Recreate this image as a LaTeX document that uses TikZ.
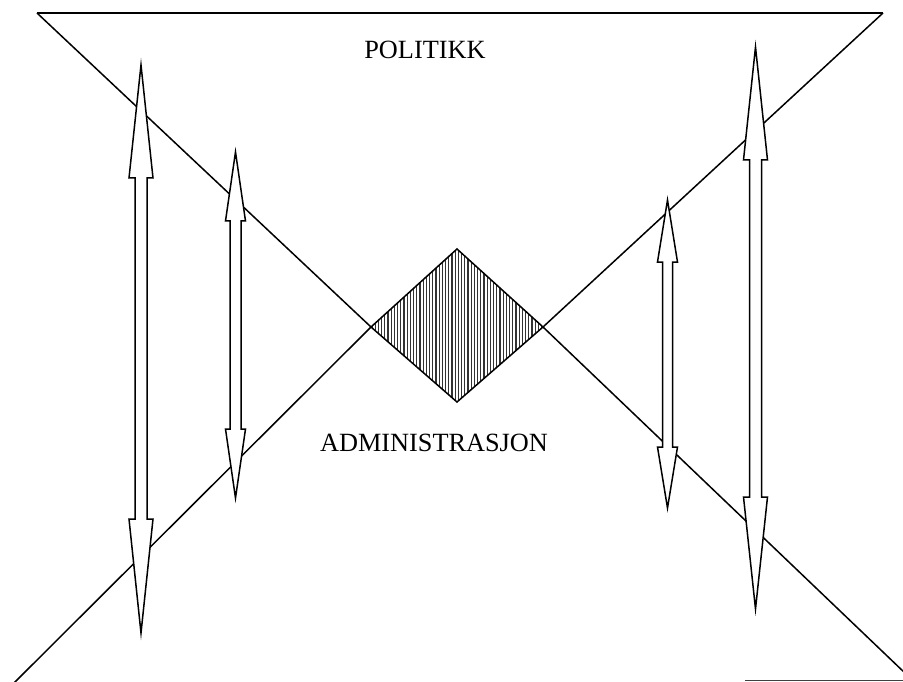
\documentclass[tikz,border=0pt]{standalone}
\usepackage{fontspec}
\setmainfont{Liberation Serif}
\newcommand{\dblarr}[7]{%
  % #1 x, #2 top tip, #3 top head base, #4 bottom head base, #5 bottom tip, #6 head half width, #7 shaft half width
  \draw[outline] (#1,#2) -- ({#1+#6},#3) -- ({#1+#7},#3) -- ({#1+#7},#4) -- ({#1+#6},#4) -- (#1,#5)
    -- ({#1-#6},#4) -- ({#1-#7},#4) -- ({#1-#7},#3) -- ({#1-#6},#3) -- cycle;}
\begin{document}
\begin{tikzpicture}[x=1pt,y=-1pt,
  outline/.style={line width=1.5pt,line join=miter,fill=white},
  edge/.style={line width=1.5pt},
  label/.style={font=\fontsize{26.3}{29}\selectfont,inner sep=0pt,anchor=base}]
\useasboundingbox (0,0) rectangle (903,682);
\fill[white] (0,0) rectangle (903,682);
\clip (0,0) rectangle (903,682);
% diamond corners
\coordinate (dl) at (371,327);
\coordinate (dt) at (457,249);
\coordinate (dr) at (543,327);
\coordinate (db) at (457,402);
\coordinate (tl) at (37,13);
\coordinate (tr) at (883,13);
\coordinate (bl) at (13,684);
\coordinate (br) at (906,674);
% hourglass lines
\draw[edge] (tl) -- (tr);
\draw[edge] (tl) -- (dl);
\draw[edge] (tr) -- (dr);
\draw[edge] (dl) -- (bl);
\draw[edge] (dr) -- (br);
\draw[line width=1.6pt,black!75] (745,680.5) -- (903,680.5);
% hatched diamond
\begin{scope}
  \clip (dl) -- (dt) -- (dr) -- (db) -- cycle;
  \foreach \x in {372,375.2,...,543} \draw[black!80,line width=1.1pt] (\x,245) -- (\x,405);
\end{scope}
\draw[edge,line join=miter] (dl) -- (dt) -- (dr) -- (db) -- cycle;
% double arrows
\dblarr{141}{65}{178}{519}{633}{12}{6}
\dblarr{235.5}{152}{221}{429}{498}{10}{5.5}
\dblarr{667.5}{200}{262}{447}{508}{10}{5}
\dblarr{755.5}{47}{160}{497}{609}{12}{6}
% labels
\node[label] (politikk) at (425,58.3) {POLITIKK};
\node[label] (admin) at (434,451) {ADMINISTRASJON};
\end{tikzpicture}
\end{document}
